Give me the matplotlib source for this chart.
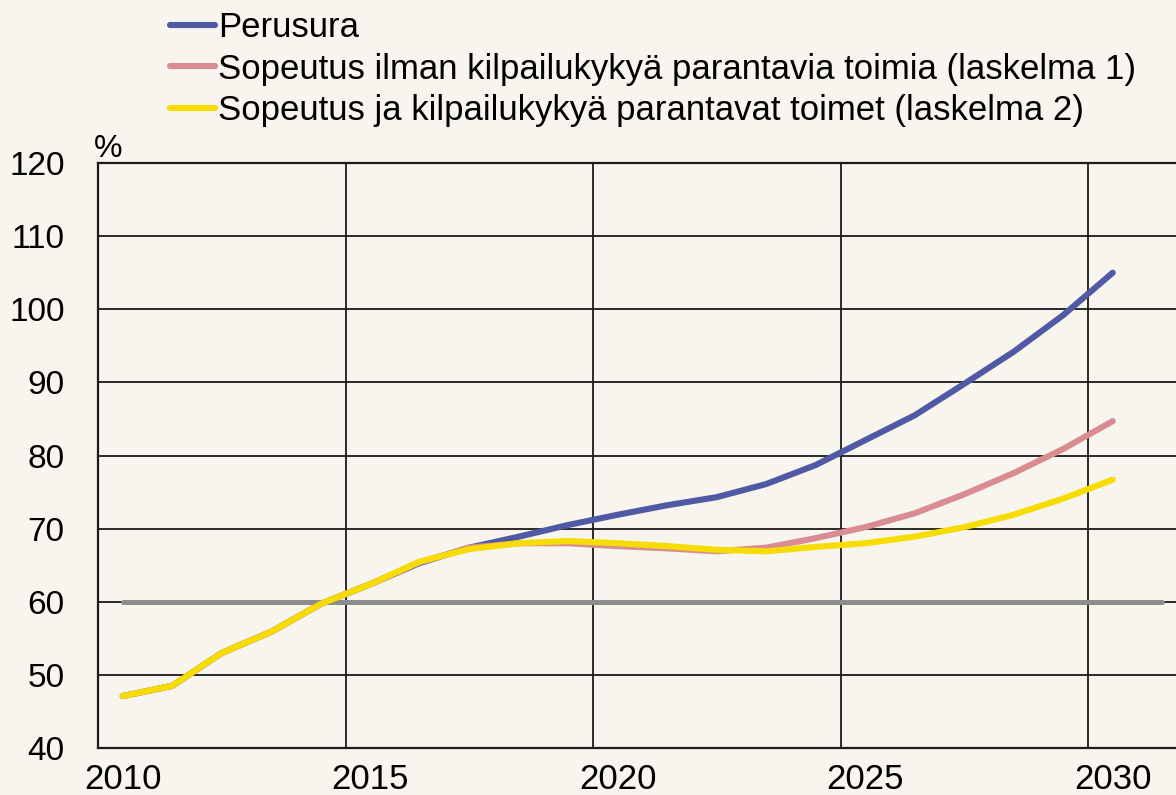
"""Julkisen velan kehitys: perusura ja sopeutuslaskelmat, % BKT:sta."""
import matplotlib
matplotlib.use("Agg")
import matplotlib.pyplot as plt
import numpy as np

BG = "#F8F4EE"
COLORS = {
    "perusura": "#5059A3",
    "laskelma1": "#D98C91",
    "laskelma2": "#F7DC00",
    "raja": "#8C8C8C",
}

years = list(range(2010, 2031))
perusura = [47.1, 48.5, 53.0, 55.9, 59.7, 62.4, 65.3, 67.4, 68.9, 70.5, 71.9,
            73.2, 74.3, 76.1, 78.7, 82.1, 85.5, 89.8, 94.2, 99.2, 105.0]
laskelma1 = [47.1, 48.5, 53.0, 55.9, 59.7, 62.4, 65.4, 67.4, 68.0, 68.0, 67.6,
             67.3, 66.9, 67.4, 68.7, 70.2, 72.1, 74.7, 77.6, 80.9, 84.7]
laskelma2 = [47.1, 48.5, 53.0, 55.9, 59.7, 62.4, 65.5, 67.2, 68.0, 68.3, 68.0,
             67.6, 67.1, 66.9, 67.5, 68.0, 68.9, 70.2, 71.9, 74.1, 76.7]
raja_years = list(range(2010, 2032))
raja = [60] * len(raja_years)

labels = ["Perusura",
          "Sopeutus ilman kilpailukykyä parantavia toimia (laskelma 1)",
          "Sopeutus ja kilpailukykyä parantavat toimet (laskelma 2)"]
tick_years = [2010, 2015, 2020, 2025, 2030]

plt.rcParams.update({
    "font.family": ["Liberation Sans", "DejaVu Sans"],
    "font.size": 25,
})

W, H = 1176, 795
fig = plt.figure(figsize=(W / 100, H / 100), dpi=100, facecolor=BG)
ax = fig.add_axes([98 / W, (H - 748) / H, 1089 / W, 585 / H], facecolor=BG)

x = np.array(years) + 0.5
ax.plot(np.array(raja_years) + 0.5, raja, color=COLORS["raja"], lw=3.6,
        solid_capstyle="round", zorder=2)
l0, = ax.plot(x, perusura, color=COLORS["perusura"], lw=4.4,
              solid_capstyle="round", zorder=3)
l1, = ax.plot(x, laskelma1, color=COLORS["laskelma1"], lw=4.4,
              solid_capstyle="round", zorder=4)
l2, = ax.plot(x, laskelma2, color=COLORS["laskelma2"], lw=4.4,
              solid_capstyle="round", zorder=5)

ax.set_xlim(2010, 2032)
ax.set_ylim(40, 120)
ax.set_yticks(range(40, 121, 10))
ax.set_xticks([2015, 2020, 2025, 2030])
ax.set_xticklabels([])
ax.set_xticks(np.array(tick_years) + 0.5, minor=True)
ax.set_xticklabels([str(y) for y in tick_years], minor=True)
ax.tick_params(axis="x", which="both", length=0, pad=11, labelsize=25)
ax.tick_params(axis="y", length=0, pad=24, labelsize=24)

ax.grid(axis="y", color="#1A1A1A", lw=1.3, zorder=0)
ax.grid(axis="x", which="major", color="#1A1A1A", lw=1.3, zorder=0)
for s in ["left", "bottom", "top", "right"]:
    ax.spines[s].set_color("#1A1A1A")
    ax.spines[s].set_linewidth(1.6)

ax.text(-0.004, 0.998, "%", transform=ax.transAxes, fontsize=23,
        ha="left", va="bottom")

leg = fig.legend([l0, l1, l2], labels, loc="upper left",
                 bbox_to_anchor=(156 / W, 1 + 3 / H), frameon=False,
                 fontsize=25, handlelength=1.3, handletextpad=0.1,
                 labelspacing=0.25, borderaxespad=0)

fig.savefig("out.png", dpi=100, facecolor=BG)
